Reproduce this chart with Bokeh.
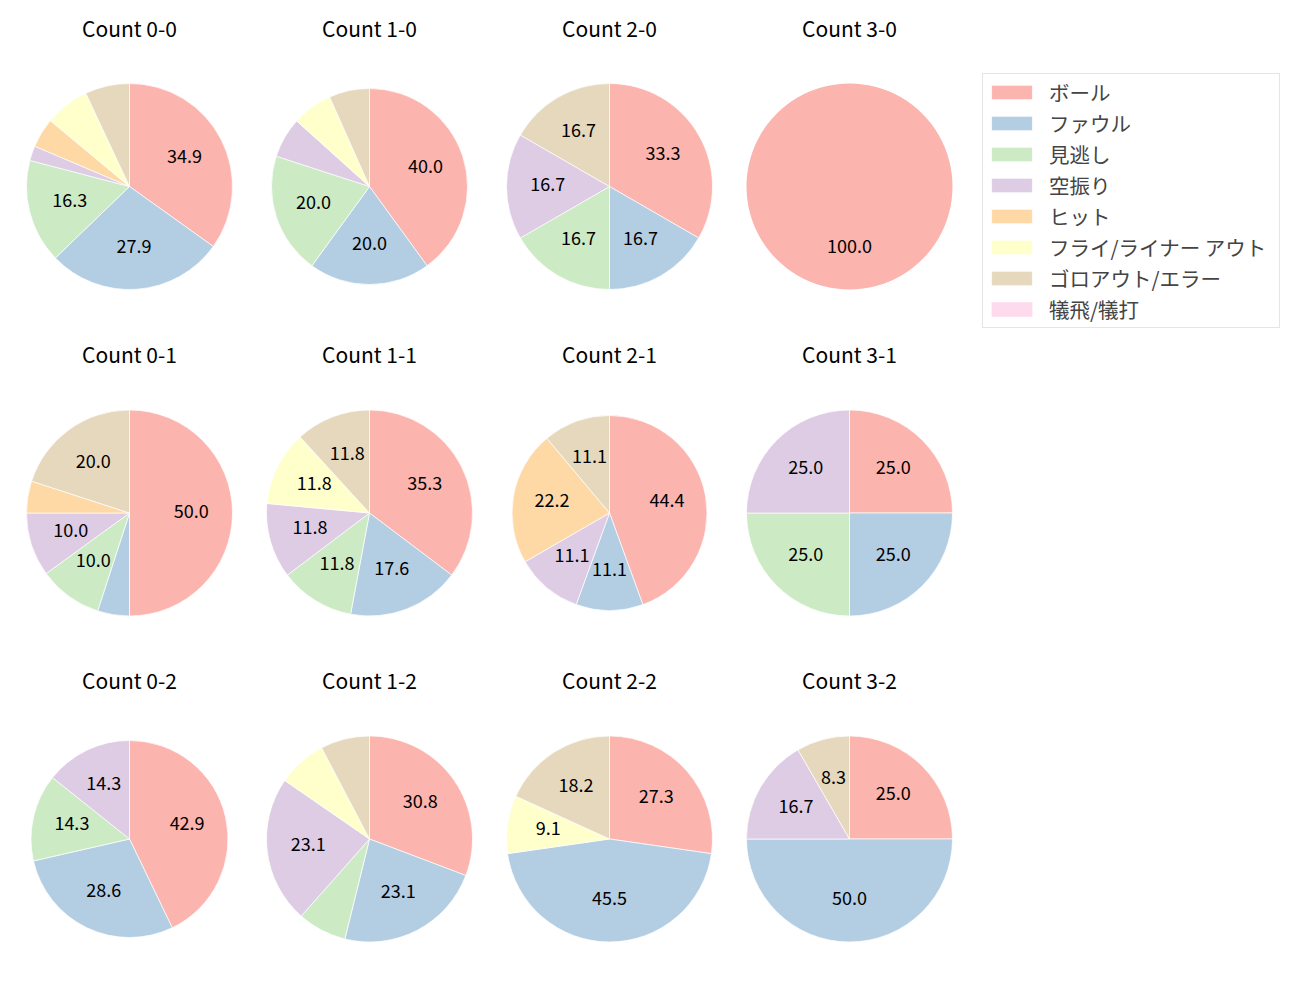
import math
from bokeh.plotting import figure
from bokeh.models import Range1d, Legend, LegendItem, ColumnDataSource
from bokeh.core.properties import value
from bokeh.embed import file_html
from bokeh.resources import INLINE

# ---------------- data ----------------
categories = ["ボール", "ファウル", "見逃し", "空振り", "ヒット",
              "フライ/ライナー アウト", "ゴロアウト/エラー", "犠飛/犠打"]
colors = ["#fbb4ae", "#b3cde3", "#ccebc5", "#decbe4",
          "#fed9a6", "#ffffcc", "#e5d8bd", "#fddaec"]

count_names = ["0-0", "1-0", "2-0", "3-0",
               "0-1", "1-1", "2-1", "3-1",
               "0-2", "1-2", "2-2", "3-2"]

counts_0_0 = [15, 12, 7, 1, 2, 3, 3, 0]
counts_1_0 = [6, 3, 3, 1, 0, 1, 1, 0]
counts_2_0 = [2, 1, 1, 1, 0, 0, 1, 0]
counts_3_0 = [1, 0, 0, 0, 0, 0, 0, 0]
counts_0_1 = [10, 1, 2, 2, 1, 0, 4, 0]
counts_1_1 = [6, 3, 2, 2, 0, 2, 2, 0]
counts_2_1 = [4, 1, 0, 1, 2, 0, 1, 0]
counts_3_1 = [1, 1, 1, 1, 0, 0, 0, 0]
counts_0_2 = [3, 2, 1, 1, 0, 0, 0, 0]
counts_1_2 = [4, 3, 1, 3, 0, 1, 1, 0]
counts_2_2 = [3, 5, 0, 0, 0, 1, 2, 0]
counts_3_2 = [3, 6, 0, 2, 0, 0, 1, 0]

all_counts = [counts_0_0, counts_1_0, counts_2_0, counts_3_0,
              counts_0_1, counts_1_1, counts_2_1, counts_3_1,
              counts_0_2, counts_1_2, counts_2_2, counts_3_2]

# ---------------- layout (pixels from top-left) ----------------
W, H = 1300, 1000
col_x = [129, 369, 609, 849]
row_y = [186, 512.5, 838.5]
radii = [103, 98, 103, 103,
         103, 103, 97.5, 103,
         98.5, 103, 103, 103]
title_offset = 159
label_frac = 0.6
label_dy = 2.5
pct_threshold = 8.0

p = figure(width=W, height=H, output_backend="svg", toolbar_location=None,
           x_range=Range1d(0, W), y_range=Range1d(0, H),
           min_border=0, outline_line_color=None)
p.axis.visible = False
p.grid.visible = False
p.background_fill_color = "white"
p.border_fill_color = "white"

FONT_NAME = "Noto Sans CJK JP"
FONT = value(FONT_NAME)

wedge_data = {c: dict(x=[], y=[], r=[], s=[], e=[], la=[]) for c in range(len(categories))}
lab = dict(x=[], y=[], t=[])
ttl = dict(x=[], y=[], t=[])

for k, counts in enumerate(all_counts):
    cx = col_x[k % 4]
    cy = H - row_y[k // 4]
    r = radii[k]
    total = float(sum(counts))
    cum = 0.0
    for c, v in enumerate(counts):
        frac0 = cum / total
        cum += v
        frac1 = cum / total
        # clockwise from 12 o'clock
        a_end = math.pi / 2 - frac0 * 2 * math.pi
        a_start = math.pi / 2 - frac1 * 2 * math.pi
        full = (frac1 - frac0) > 0.9999
        if full:
            a_start = a_end - 2 * math.pi + 1e-4
        d = wedge_data[c]
        d["x"].append(cx); d["y"].append(cy)
        d["r"].append(r if v > 0 else 0.0)
        d["s"].append(a_start); d["e"].append(a_end)
        d["la"].append(0.0 if (full or v <= 0) else 1.0)
        pct = 100.0 * v / total
        if pct >= pct_threshold:
            mid = math.pi / 2 - (frac0 + frac1) * math.pi
            if full:
                mid = -math.pi / 2
            lab["x"].append(cx + label_frac * r * math.cos(mid))
            lab["y"].append(cy + label_frac * r * math.sin(mid) + label_dy)
            lab["t"].append("%.1f" % pct)
    ttl["x"].append(cx)
    ttl["y"].append(cy + title_offset)
    ttl["t"].append("Count " + count_names[k])

renderers = []
for c in range(len(categories)):
    src = ColumnDataSource(wedge_data[c])
    rr = p.wedge(x="x", y="y", radius="r", start_angle="s", end_angle="e",
                 direction="anticlock", source=src,
                 fill_color=colors[c], line_color="white", line_width=0.7,
                 line_alpha="la")
    renderers.append(rr)

p.text(x="x", y="y", text="t", source=ColumnDataSource(lab),
       text_align="center", text_baseline="middle", text_font=FONT,
       text_font_size="18px", text_color="black")
p.text(x="x", y="y", text="t", source=ColumnDataSource(ttl),
       text_align="center", text_baseline="middle", text_font=FONT,
       text_font_size="21px", text_color="black")

legend = Legend(items=[LegendItem(label=categories[c], renderers=[renderers[c]])
                       for c in range(len(categories))],
                location=(982, H - 328),
                label_text_font=FONT_NAME, label_text_font_size="20.5px",
                glyph_width=51, glyph_height=18, label_standoff=12,
                padding=3, spacing=1, label_height=19, label_width=227,
                margin=0,
                border_line_color="#cccccc", border_line_width=1,
                background_fill_color="white", background_fill_alpha=1)
p.add_layout(legend)

open("out.html", "w").write(file_html(p, INLINE))
